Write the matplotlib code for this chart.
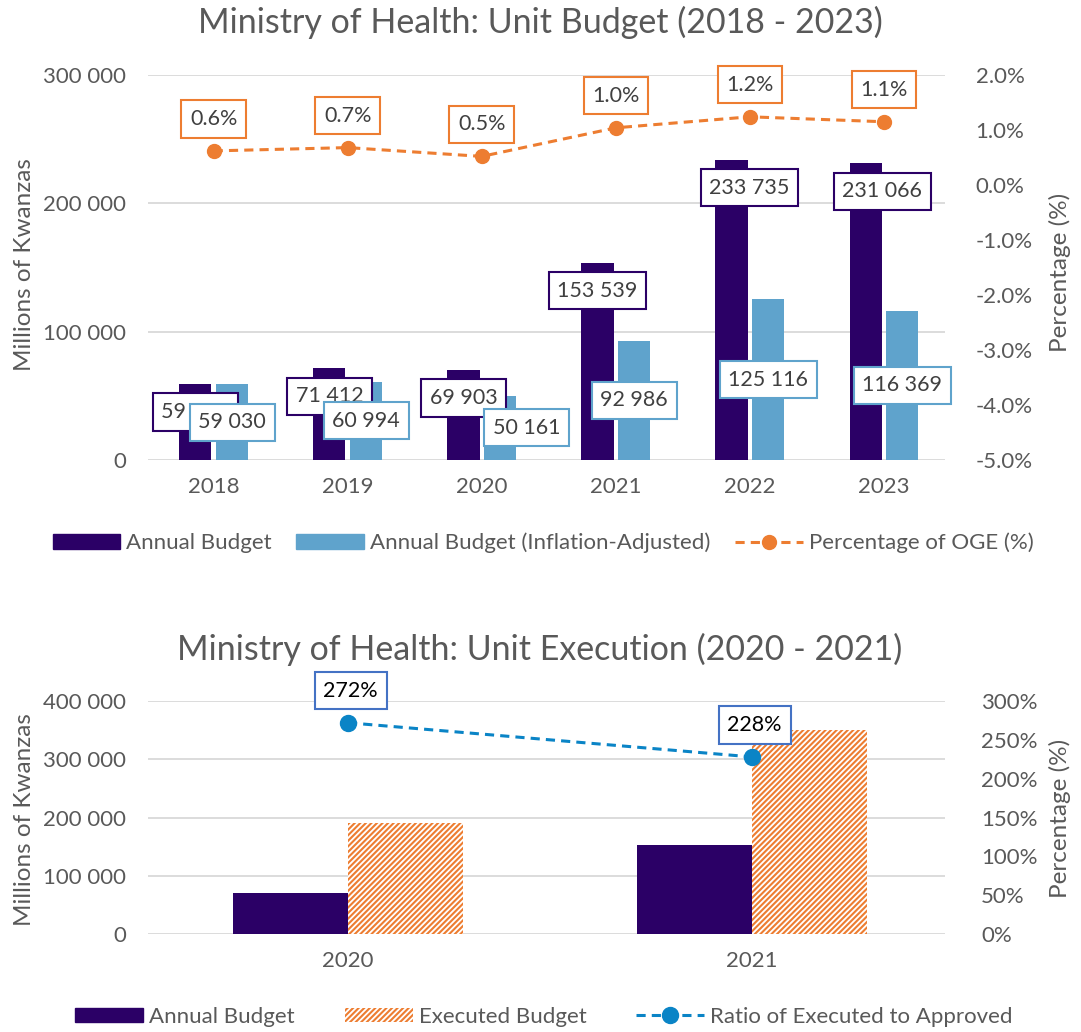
import numpy as np
import matplotlib
matplotlib.use('Agg')
import matplotlib.pyplot as plt
from matplotlib.patches import Patch
from matplotlib.lines import Line2D
from matplotlib.ticker import FuncFormatter, MultipleLocator

plt.rcParams['font.family'] = ['Lato', 'DejaVu Sans']
plt.rcParams['hatch.linewidth'] = 1.5

# data: top chart
years = ['2018', '2019', '2020', '2021', '2022', '2023']
annual = [59030, 71412, 69903, 153539, 233735, 231066]
adjusted = [59030, 60994, 50161, 92986, 125116, 116369]
oge_pct = [0.62, 0.68, 0.52, 1.04, 1.24, 1.15]
oge_labels = ['0.6%', '0.7%', '0.5%', '1.0%', '1.2%', '1.1%']

# data: bottom chart
exec_years = ['2020', '2021']
exec_annual = [69903, 153539]
exec_done = [190000, 350000]
exec_ratio = [272, 228]

DARK = '#2b0066'
LIGHT = '#5fa3cc'
ORANGE = '#ed7d31'
BLUE = '#0a84c6'
BOXBLUE = '#4472c4'
GRAY = '#595959'
GRID = '#d9d9d9'
TXT = '#404040'

# manual label nudges in points (dragged labels in the original)
dark_dx = [0, 0, 0, 0, 13, 12]
light_dx = [0, 0, 19, 0, 0, 0]

LBL = 15.5
TICK = 16
HATCH = '//////'


def thousands(v, pos=None):
    return f"{int(round(v)):,}".replace(",", " ")


def clean(ax):
    for s in ax.spines.values():
        s.set_visible(False)
    ax.tick_params(length=0, labelsize=TICK, labelcolor=GRAY)


fig = plt.figure(figsize=(10.81, 10.32), dpi=100)

# ---------------- top chart ----------------
ax1 = fig.add_axes([148 / 1081, 1 - 460 / 1032, 797 / 1081, 385 / 1032])
x = np.arange(len(years))
w = 0.24
ax1.bar(x - 0.137, annual, w, color=DARK, zorder=2)
ax1.bar(x + 0.137, adjusted, w, color=LIGHT, zorder=2)
ax1.set_xlim(-0.49, 5.455)
ax1.set_ylim(0, 300000)
ax1.yaxis.set_major_locator(MultipleLocator(100000))
ax1.yaxis.set_major_formatter(FuncFormatter(thousands))
ax1.set_xticks(x)
ax1.set_xticklabels(years)
ax1.grid(axis='y', color=GRID, lw=1.3)
ax1.set_axisbelow(True)
clean(ax1)
ax1.tick_params(axis='y', pad=16)
ax1.tick_params(axis='x', pad=12)

for i, v in enumerate(annual):
    ax1.annotate(thousands(v), (x[i] - 0.137, v), xytext=(dark_dx[i], -20),
                 textcoords='offset points', ha='center', va='center',
                 fontsize=LBL, color=TXT, zorder=5,
                 bbox=dict(boxstyle='square,pad=0.4', fc='white', ec=DARK, lw=1.5))
for i, v in enumerate(adjusted):
    ax1.annotate(thousands(v), (x[i] + 0.137, v / 2), xytext=(light_dx[i], 0),
                 textcoords='offset points', ha='center', va='center',
                 fontsize=LBL, color=TXT, zorder=6,
                 bbox=dict(boxstyle='square,pad=0.4', fc='white', ec=LIGHT, lw=1.5))

ax2 = ax1.twinx()
ax2.plot(x, oge_pct, color=ORANGE, lw=2.2, ls=(0, (3, 2)), marker='o', ms=10)
ax2.set_ylim(-5, 2)
ax2.yaxis.set_major_locator(MultipleLocator(1))
ax2.yaxis.set_major_formatter(FuncFormatter(lambda v, p: f"{v:.1f}%"))
clean(ax2)
ax2.tick_params(axis='y', pad=22)
for i, v in enumerate(oge_pct):
    ax2.annotate(oge_labels[i], (x[i], v), xytext=(0, 23),
                 textcoords='offset points', ha='center', va='center',
                 fontsize=LBL, color=TXT,
                 bbox=dict(boxstyle='square,pad=0.4', fc='white', ec=ORANGE, lw=1.5))

fig.text(540 / 1081, 1 - 22 / 1032, 'Ministry of Health: Unit Budget (2018 - 2023)',
         ha='center', va='center', fontsize=24.5, color=GRAY)
fig.text(25 / 1081, 1 - 265 / 1032, 'Millions of Kwanzas', rotation=90,
         ha='center', va='center', fontsize=17.5, color=GRAY)
fig.text(1060 / 1081, 1 - 272 / 1032, 'Percentage (%)', rotation=90,
         ha='center', va='center', fontsize=17.5, color=GRAY)

h1 = [Patch(color=DARK), Patch(color=LIGHT),
      Line2D([], [], color=ORANGE, lw=2.2, ls=(0, (3, 2)), marker='o', ms=10)]
fig.legend(h1, ['Annual Budget', 'Annual Budget (Inflation-Adjusted)', 'Percentage of OGE (%)'],
           loc='center', bbox_to_anchor=(543 / 1081, 1 - 543 / 1032), ncol=3, frameon=False,
           fontsize=16, labelcolor=GRAY, handlelength=3.05, handleheight=0.63,
           handletextpad=0.27, columnspacing=1.1, numpoints=1)

# ---------------- bottom chart ----------------
ax3 = fig.add_axes([148 / 1081, 1 - 934 / 1032, 797 / 1081, 233 / 1032])
xe = np.arange(len(exec_years))
we = 0.285
ax3.bar(xe - 0.1425, exec_annual, we, color=DARK, zorder=2)
ax3.bar(xe + 0.1425, exec_done, we, color='white', edgecolor=ORANGE, hatch=HATCH,
        lw=0, zorder=2)
ax3.set_xlim(-0.495, 1.478)
ax3.set_ylim(0, 400000)
ax3.yaxis.set_major_locator(MultipleLocator(100000))
ax3.yaxis.set_major_formatter(FuncFormatter(thousands))
ax3.set_xticks(xe)
ax3.set_xticklabels(exec_years)
ax3.grid(axis='y', color=GRID, lw=1.3)
ax3.set_axisbelow(True)
clean(ax3)
ax3.tick_params(axis='y', pad=16)
ax3.tick_params(axis='x', pad=12)

ax4 = ax3.twinx()
ax4.plot(xe, exec_ratio, color=BLUE, lw=2.2, ls=(0, (3, 2)), marker='o', ms=11.5)
ax4.set_ylim(0, 300)
ax4.yaxis.set_major_locator(MultipleLocator(50))
ax4.yaxis.set_major_formatter(FuncFormatter(lambda v, p: f"{int(v)}%"))
clean(ax4)
ax4.tick_params(axis='y', pad=26)
for i, v in enumerate(exec_ratio):
    ax4.annotate(f"{v}%", (xe[i], v), xytext=(2, 23),
                 textcoords='offset points', ha='center', va='center',
                 fontsize=LBL, color='black',
                 bbox=dict(boxstyle='square,pad=0.4', fc='white', ec=BOXBLUE, lw=1.5))

fig.text(540 / 1081, 1 - 649 / 1032, 'Ministry of Health: Unit Execution (2020 - 2021)',
         ha='center', va='center', fontsize=24.5, color=GRAY)
fig.text(25 / 1081, 1 - 820 / 1032, 'Millions of Kwanzas', rotation=90,
         ha='center', va='center', fontsize=17.5, color=GRAY)
fig.text(1060 / 1081, 1 - 818 / 1032, 'Percentage (%)', rotation=90,
         ha='center', va='center', fontsize=17.5, color=GRAY)

h2 = [Patch(color=DARK), Patch(facecolor='white', edgecolor=ORANGE, hatch=HATCH, lw=0),
      Line2D([], [], color=BLUE, lw=2.2, ls=(0, (3, 2)), marker='o', ms=11.5)]
fig.legend(h2, ['Annual Budget', 'Executed Budget', 'Ratio of Executed to Approved'],
           loc='center', bbox_to_anchor=(544 / 1081, 1 - 1017 / 1032), ncol=3, frameon=False,
           fontsize=16, labelcolor=GRAY, handlelength=3.05, handleheight=0.63,
           handletextpad=0.27, columnspacing=2.25, numpoints=1)

fig.savefig('out.png', dpi=100)
